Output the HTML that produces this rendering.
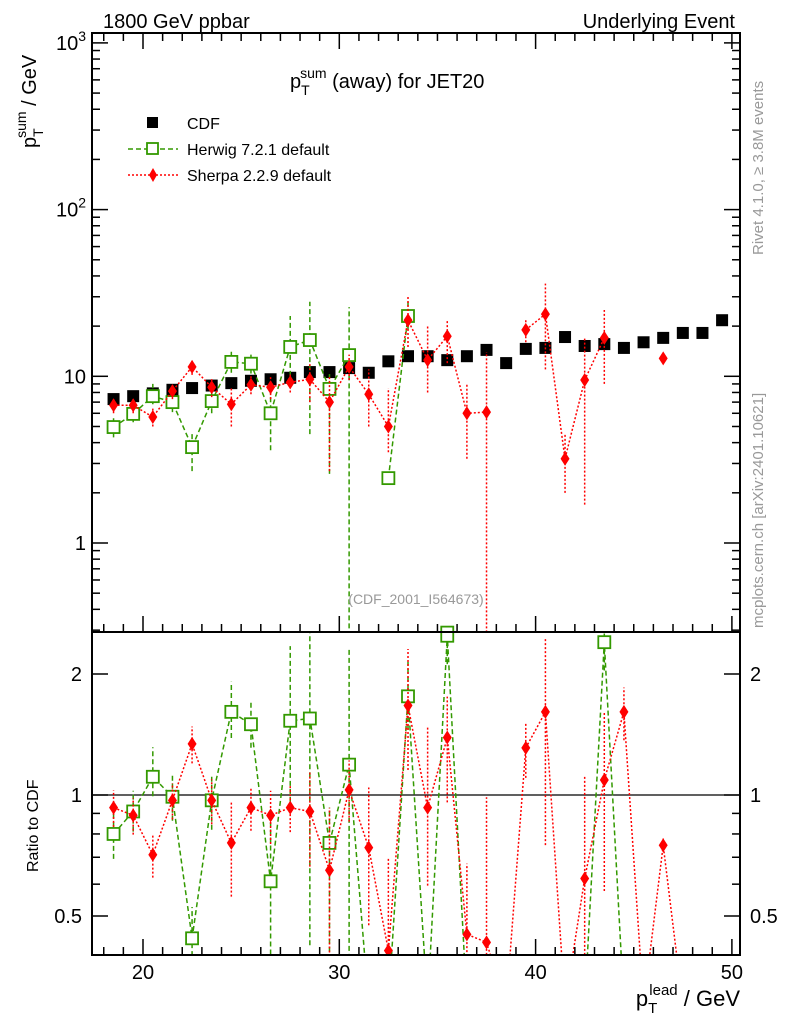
<!DOCTYPE html>
<html><head><meta charset="utf-8"><style>
html,body{margin:0;padding:0;background:#fff;overflow:hidden;width:786px;height:1024px}
svg{display:block;font-family:"Liberation Sans",sans-serif}
</style></head><body>
<svg id="c" width="786" height="1024" viewBox="0 0 786 1024" xmlns="http://www.w3.org/2000/svg">
<rect width="786" height="1024" fill="#fff"/>
<defs>
<clipPath id="cm"><rect x="92" y="33" width="648" height="599"/></clipPath>
<clipPath id="cr"><rect x="92" y="632" width="648" height="323"/></clipPath>
</defs>
<g id="g-main" clip-path="url(#cm)"></g>
<g id="g-ratio" clip-path="url(#cr)"></g>
<g id="g-axes"></g>
<text x="103" y="28" font-size="20">1800 GeV ppbar</text>
<text x="735" y="28" font-size="20" text-anchor="end">Underlying Event</text>
<text x="290" y="88" font-size="20">p<tspan font-size="14" dy="7">T</tspan><tspan font-size="14" dx="-8" dy="-17">sum</tspan><tspan dy="10"> (away) for JET20</tspan></text>
<text transform="translate(36,148) rotate(-90)" font-size="20">p<tspan font-size="14" dy="7">T</tspan><tspan font-size="14" dx="-8" dy="-17">sum</tspan><tspan dy="10"> / GeV</tspan></text>
<text transform="translate(38,872) rotate(-90)" font-size="16">Ratio to CDF</text>
<text x="740" y="1006" font-size="22" text-anchor="end">p<tspan font-size="15" dy="7">T</tspan><tspan font-size="15" dx="-8" dy="-18">lead</tspan><tspan dy="11"> / GeV</tspan></text>
<text transform="translate(763,255) rotate(-90)" font-size="15" fill="#999">Rivet 4.1.0, ≥ 3.8M events</text>
<text transform="translate(763,628) rotate(-90)" font-size="15" fill="#999">mcplots.cern.ch [arXiv:2401.10621]</text>
<text x="416" y="604" font-size="14" fill="#999" text-anchor="middle">(CDF_2001_I564673)</text>
<g>
<rect x="147" y="117" width="11" height="11" fill="#000"/>
<text x="187" y="129" font-size="16">CDF</text>
<line x1="128" y1="149" x2="178" y2="149" stroke="#339900" stroke-width="1.5" stroke-dasharray="5,3"/>
<rect x="147" y="143" width="11" height="11" fill="#fff" stroke="#339900" stroke-width="1.8"/>
<text x="187" y="155" font-size="16">Herwig 7.2.1 default</text>
<line x1="128" y1="175" x2="178" y2="175" stroke="#f00" stroke-width="1.5" stroke-dasharray="2,2"/>
<path d="M153,168 L157,175 L153,182 L149,175Z" fill="#f00"/>
<text x="187" y="181" font-size="16">Sherpa 2.2.9 default</text>
</g>
</svg>
<script>
const xCenters=[18.5,19.5,20.5,21.5,22.5,23.5,24.5,25.5,26.5,27.5,28.5,29.5,30.5,31.5,32.5,33.5,34.5,35.5,36.5,37.5,38.5,39.5,40.5,41.5,42.5,43.5,44.5,45.5,46.5,47.5,48.5,49.5];
const cdfValues=[7.3,7.6,7.9,8.3,8.5,8.8,9.1,9.4,9.6,9.8,10.6,10.6,11.2,10.5,12.3,13.2,13.2,12.5,13.2,14.4,12.0,14.6,14.8,17.2,15.2,15.6,14.8,16.0,17.0,18.2,18.2,21.7];
const herwigValues=[4.96,5.95,7.6,7.0,3.76,7.1,12.2,11.9,6.0,15.0,16.5,8.4,13.4,null,2.45,23,null,null,null,null,null,null,null,null,null,null,null,null,null,null,null,null];
const herwigLo=[4.3,5.3,6.8,6.1,2.7,6.0,10.5,10.4,3.6,9.0,4.5,2.6,0.01,null,2.3,19,null,null,null,null,null,null,null,null,null,null,null,null,null,null,null,null];
const herwigHi=[5.6,6.7,9.0,8.0,4.5,8.2,14.5,13.5,8.4,23,28,10.3,26,null,2.6,28,null,null,null,null,null,null,null,null,null,null,null,null,null,null,null,null];
const herwigEdgeValue=[35.5,0.29];
const sherpaValues=[6.7,6.7,5.7,8.15,11.4,8.6,6.8,8.9,8.6,9.2,9.6,7.0,11.4,7.8,5.0,21.7,12.5,17.4,6.0,6.1,null,19,23.6,3.2,9.5,17,null,null,12.8,null,null,null];
const sherpaLo=[6.0,6.0,5.0,7.3,10.2,7.5,5.0,7.8,7.3,8.0,7.0,2.7,9.5,5.0,3.5,15,8.0,12,3.2,0.01,null,16,11,2.0,1.7,9,null,null,12.3,null,null,null];
const sherpaHi=[7.4,7.4,6.4,9.0,12.6,9.7,8.6,10,9.9,10.5,12,10,13.5,11,8.5,30,20,22,9.0,14,null,22,36,4.5,17,25,null,null,13.3,null,null,null];
const herwigRatio=[0.80,0.91,1.11,0.99,0.44,0.97,1.61,1.50,0.61,1.53,1.55,0.76,1.19,0.3,0.3,1.76,0.3,2.49,0.3,null,null,null,null,null,0.3,2.4,0.3,null,null,null,null,null];
const sherpaRatio=[0.93,0.89,0.71,0.97,1.34,0.97,0.76,0.93,0.89,0.93,0.91,0.65,1.03,0.74,0.41,1.67,0.93,1.39,0.45,0.43,0.3,1.31,1.61,0.3,0.62,1.09,1.61,0.3,0.75,0.3,null,null];
const mainTicks=[1,10,100,1000];
const mainTickLabels=["1","10","10²","10³"];
const ratioTicks=[0.5,1,2];
const ratioTickLabels=["0.5","1","2"];
const xTicks=[20,30,40,50];

const L=92,R=740,T=33,MB=632,RB=955;
const X=v=>143+(v-20)*19.63;
const YM=v=>543-Math.log10(v)*166.7;
const YR=v=>795-Math.log2(v)*121;
const NS="http://www.w3.org/2000/svg";
function mk(tag,attrs,parent){const e=document.createElementNS(NS,tag);for(const k in attrs)e.setAttribute(k,attrs[k]);parent.appendChild(e);return e;}
const gm=document.getElementById('g-main'),gr=document.getElementById('g-ratio'),ga=document.getElementById('g-axes');

function series(vals,lo,hi,Y,g,color,dash,marker,name,base,bLo,bHi){
  let d="";let pen=false;
  vals.forEach((v,i)=>{if(v==null){pen=false;return;}d+=(pen?"L":"M")+X(xCenters[i]).toFixed(1)+","+Y(v).toFixed(1);pen=true;});
  const p=mk('path',{d:d,fill:'none',stroke:color,'stroke-width':1.5,'stroke-dasharray':dash},g);
  
  
  vals.forEach((v,i)=>{
    if(v==null||v<=0.3)return;
    const x=X(xCenters[i]);
    let l=lo?lo[i]:v*0.85,h=hi?hi[i]:v*1.15;
    if(base&&base[i]&&bLo[i]&&bHi[i]){l=v*bLo[i]/base[i];h=v*bHi[i]/base[i];}
    const e=mk('line',{x1:x,x2:x,y1:Y(Math.max(l,0.01)),y2:Y(h),stroke:color,'stroke-width':1.5,'stroke-dasharray':dash},g);
    
    
    const y=Y(v);let m;
    if(marker==='sq'){m=mk('rect',{x:x-6,y:y-6,width:12,height:12,fill:'#fff',stroke:color,'stroke-width':1.8},g);}
    else{m=mk('path',{d:`M${x},${y-7}L${x+4.5},${y}L${x},${y+7}L${x-4.5},${y}Z`,fill:color},g);}
    
    
  });
}
cdfValues.forEach((v,i)=>{
  const r=mk('rect',{x:X(xCenters[i])-6,y:YM(v)-6,width:12,height:12,fill:'#000'},gm);
  
  
});
series(herwigValues,herwigLo,herwigHi,YM,gm,'#339900','5,3','sq','herwig');
series(sherpaValues,sherpaLo,sherpaHi,YM,gm,'#f00','2,2','di','sherpa');
{const x=X(herwigEdgeValue[0]),y=YM(herwigEdgeValue[1]);const m=mk('rect',{x:x-6,y:y-6,width:12,height:12,fill:'#fff',stroke:'#339900','stroke-width':1.8},gm);

}
const one=mk('line',{x1:L,x2:R,y1:YR(1),y2:YR(1),stroke:'#000','stroke-width':1.2},gr);


series(herwigRatio,null,null,YR,gr,'#339900','5,3','sq','herwig-ratio',herwigValues,herwigLo,herwigHi);
series(sherpaRatio,null,null,YR,gr,'#f00','2,2','di','sherpa-ratio',sherpaValues,sherpaLo,sherpaHi);

[[T,MB,'main-frame'],[MB,RB,'ratio-frame']].forEach(f=>{
  const r=mk('rect',{x:L,y:f[0],width:R-L,height:f[1]-f[0],fill:'none',stroke:'#000','stroke-width':2},ga);
  
  
});
for(let v=18;v<=50;v++){
  const x=X(v);const len=v%10===0?16:8;
  [MB,RB].forEach(b=>{mk('line',{x1:x,x2:x,y1:b,y2:b-len,stroke:'#000','stroke-width':1.5},ga);});
  mk('line',{x1:x,x2:x,y1:T,y2:T+len,stroke:'#000','stroke-width':1.5},ga);
}
xTicks.forEach(v=>{const t=mk('text',{x:X(v),y:979,'font-size':20,'text-anchor':'middle'},ga);t.textContent=v;
  
  });
for(let d=0;d<=3;d++){for(let k=1;k<=9;k++){const v=k*Math.pow(10,d);const y=YM(v);if(y<T||y>MB)continue;const len=k===1?16:8;
  mk('line',{x1:L,x2:L+len,y1:y,y2:y,stroke:'#000','stroke-width':1.5},ga);mk('line',{x1:R,x2:R-len,y1:y,y2:y,stroke:'#000','stroke-width':1.5},ga);}}
for(let k=3;k<=9;k++){const y=YM(k/10);if(y<=MB){mk('line',{x1:L,x2:L+8,y1:y,y2:y,stroke:'#000','stroke-width':1.5},ga);mk('line',{x1:R,x2:R-8,y1:y,y2:y,stroke:'#000','stroke-width':1.5},ga);}}
mainTicks.forEach((v,i)=>{const t=mk('text',{x:L-6,y:YM(v)+7,'font-size':20,'text-anchor':'end'},ga);
  const lab=mainTickLabels[i];
  if(lab.length>2&&lab.startsWith("10")){t.textContent="10";const s=mk('tspan',{dy:-9,'font-size':14},t);s.textContent=lab==="10²"?"2":"3";}else t.textContent=lab;
  
  });
[0.4,0.5,0.6,0.7,0.8,0.9,1,2].forEach(v=>{const y=YR(v);const big=(v===0.5||v===1||v===2);const len=big?16:8;
  mk('line',{x1:L,x2:L+len,y1:y,y2:y,stroke:'#000','stroke-width':1.5},ga);mk('line',{x1:R,x2:R-len,y1:y,y2:y,stroke:'#000','stroke-width':1.5},ga);});
ratioTicks.forEach((v,i)=>{
  const t=mk('text',{x:L-10,y:YR(v)+7,'font-size':20,'text-anchor':'end'},ga);t.textContent=ratioTickLabels[i];
  
  
  const t2=mk('text',{x:R+10,y:YR(v)+7,'font-size':20},ga);t2.textContent=ratioTickLabels[i];
  
  
});
</script>
</body></html>
